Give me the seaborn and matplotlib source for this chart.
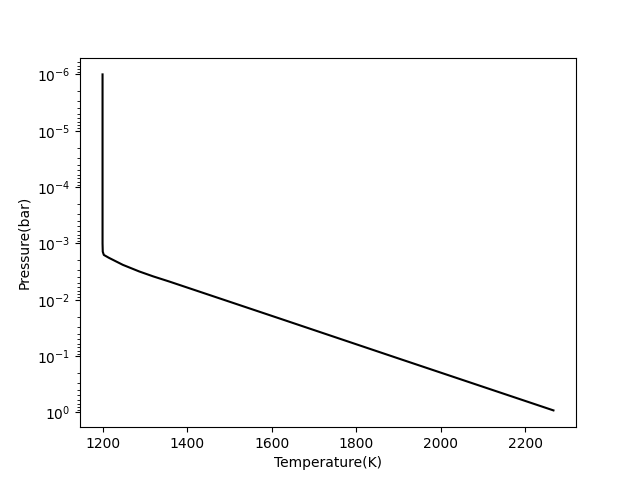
import matplotlib
matplotlib.use("Agg")
import matplotlib.pyplot as plt
import seaborn as sns
import pandas as pd

# Temperature-pressure profile
temperature_K = [1200, 1200, 1200, 1200.5, 1203, 1215, 1248, 1287, 1320, 1358, 1619, 1900, 2100, 2267]
pressure_bar = [1e-6, 1e-5, 1e-3, 1.4e-3, 1.6e-3, 1.8e-3, 2.4e-3, 3.15e-3, 3.85e-3, 4.75e-3, 2.15e-2, 1.1e-1, 3.5e-1, 0.92]

df = pd.DataFrame({"T": temperature_K, "P": pressure_bar})

fig, ax = plt.subplots(figsize=(6.4, 4.8), dpi=100)
sns.lineplot(data=df, x="T", y="P", sort=False, estimator=None, color="black", ax=ax)
ax.set_yscale("log")
ax.invert_yaxis()
ax.set_xlabel("Temperature(K)")
ax.set_ylabel("Pressure(bar)")
ax.set_xticks([1200, 1400, 1600, 1800, 2000, 2200])
fig.savefig("out.png", dpi=100)
